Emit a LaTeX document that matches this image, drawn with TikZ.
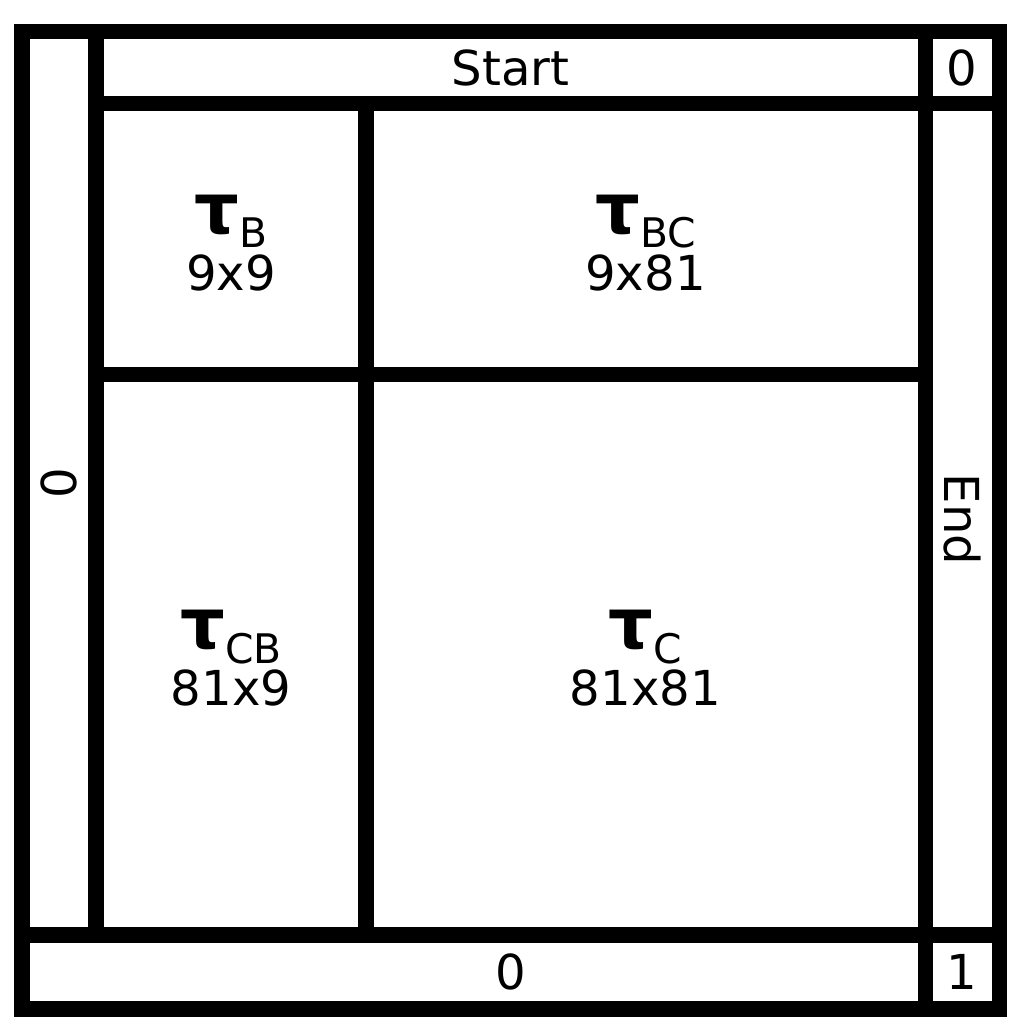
\documentclass[tikz,border=0pt]{standalone}
\usepackage{fontspec}
\setmainfont{DejaVu Sans}
\newcommand{\subsize}{\fontsize{11.6}{13}\selectfont\mdseries}
\newcommand{\cell}[5] % name, x center, y center, subscript, size
{
	% tau with its subscript
	\node[taulabel] (#1tau) at (#2, #3+6) {τ\raisebox{-4pt}{\subsize #4}};
	% block size
	\node[sizelabel] (#1size) at (#2, #3-51) {#5};
}

\begin{document}
\begin{tikzpicture}[x=0.1mm, y=0.1mm,
	wall/.style={line width=4.27pt},
	textlabel/.style={font=\fontsize{13.7}{16}\selectfont, inner sep=0pt},
	taulabel/.style={anchor=base, font=\fontsize{20}{24}\selectfont\bfseries, inner sep=0pt},
	sizelabel/.style={anchor=base, font=\fontsize{13.7}{16}\selectfont, inner sep=0pt}]
	\useasboundingbox (0, 0) rectangle (1024, 1032);
	% outer frame
	\draw[wall] (22, 23) rectangle (999, 1000);
	% border strips
	\draw[wall] (96, 1000) -- (96, 97);
	\draw[wall] (925, 1000) -- (925, 23);
	\draw[wall] (96, 928) -- (999, 928);
	\draw[wall] (22, 97) -- (999, 97);
	% blocks
	\draw[wall] (366, 928) -- (366, 97);
	\draw[wall] (96, 657) -- (925, 657);
	
	\node[textlabel] (start) at (510.5, 964) {Start};
	\node[textlabel] (topzero) at (962, 964) {0};
	\node[textlabel, rotate=90] (leftzero) at (59, 548.5) {0};
	\node[textlabel, rotate=-90] (endlabel) at (962, 512.5) {End};
	\node[textlabel] (botzero) at (510.5, 60) {0};
	\node[textlabel] (botone) at (962, 60) {1};
	
	\cell{b}{231}{792.5}{B}{9x9};
	\cell{bc}{645.5}{792.5}{BC}{9x81};
	\cell{cb}{231}{377}{CB}{81x9};
	\cell{c}{645.5}{377}{C}{81x81};
\end{tikzpicture}
\end{document}
